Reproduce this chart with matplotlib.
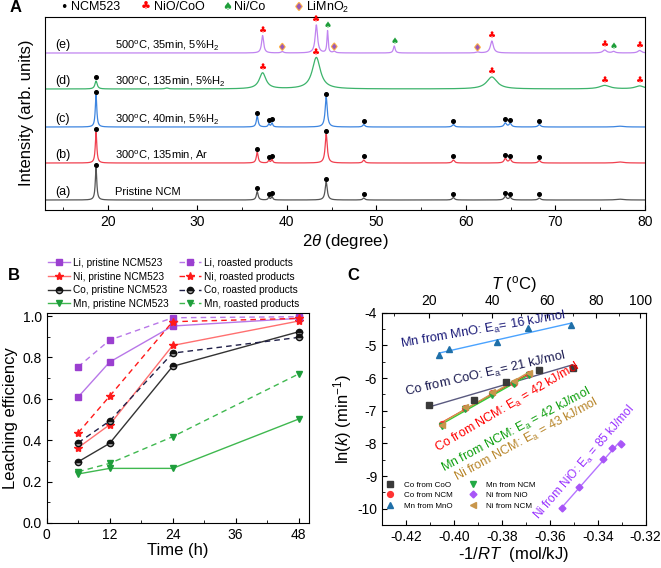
import numpy as np
import matplotlib
matplotlib.use("Agg")
import matplotlib.pyplot as plt
from matplotlib.lines import Line2D
from matplotlib.ticker import MultipleLocator, FixedLocator, FormatStrFormatter
import matplotlib.patheffects as pe

plt.rcParams['font.family'] = ['Liberation Sans', 'DejaVu Sans']
plt.rcParams['mathtext.fontset'] = 'custom'
plt.rcParams['mathtext.rm'] = 'Liberation Sans'
plt.rcParams['mathtext.it'] = 'Liberation Sans:italic'
plt.rcParams['mathtext.bf'] = 'Liberation Sans:bold'
plt.rcParams['axes.unicode_minus'] = False

W, H = 661, 568

# ---------------- panel A data: XRD peaks (2theta, height, half width)
ncm_pos = [18.7, 36.7, 38.0, 38.35, 44.4, 48.6, 58.6, 64.4, 64.95, 68.2, 77.2]
ncm_wid = [0.1, 0.12, 0.1, 0.1, 0.14, 0.14, 0.15, 0.16, 0.16, 0.16, 0.5]
a_hgt = [32, 8.5, 2.5, 3.5, 18, 2, 2.5, 3.5, 2.5, 2, 0.8]
b_hgt = [31, 11, 2.5, 3.5, 29, 3, 3, 4.5, 3.5, 2.5, 1]
c_hgt = [32, 11, 3, 4, 30, 2.5, 2.5, 4, 3.5, 2.5, 0.8]

d_pos = [18.7, 26.6, 37.3, 43.3, 62.9, 75.5, 79.4]
d_hgt = [8, 1, 16, 31.5, 12, 3.5, 3]
d_wid = [0.15, 0.2, 0.45, 0.55, 0.7, 0.7, 0.6]

e_pos = [37.3, 39.5, 43.3, 44.55, 45.3, 52.0, 61.3, 62.9, 75.5, 76.5, 79.4]
e_hgt = [17.5, 1.5, 28, 22, 1.5, 7, 1, 12, 3, 1.5, 2.5]
e_wid = [0.14, 0.15, 0.16, 0.08, 0.15, 0.12, 0.2, 0.2, 0.25, 0.2, 0.25]

offsets = [10, 47, 83, 121, 157]
trace_colors = ['#555555', '#f0404f', '#3d85e0', '#3cb36b', '#c084f0']
trace_tags = ['(a)', '(b)', '(c)', '(d)', '(e)']
trace_notes = ['Pristine NCM',
               '300$^{\\mathrm{o}}$C, 135min, Ar',
               '300$^{\\mathrm{o}}$C, 40min, 5%H$_2$',
               '300$^{\\mathrm{o}}$C, 135min, 5%H$_2$',
               '500$^{\\mathrm{o}}$C, 35min, 5%H$_2$']

ncm_marks = [18.7, 36.7, 38.0, 38.35, 44.4, 48.6, 58.6, 64.4, 64.95, 68.2]
d_ncm_marks = [18.7]
nio_marks = [37.3, 43.3, 62.9, 75.5, 79.4]
nico_marks = [44.55, 52.0, 76.5]
limno2_marks = [39.5, 45.3, 61.3]

# ---------------- panel B data
time_h = [6, 12, 24, 48]
li_pristine = [0.609, 0.778, 0.952, 0.989]
ni_pristine = [0.364, 0.475, 0.858, 0.976]
co_pristine = [0.296, 0.385, 0.757, 0.924]
mn_pristine = [0.237, 0.264, 0.264, 0.502]
li_roasted = [0.755, 0.884, 0.992, 0.997]
ni_roasted = [0.436, 0.613, 0.973, 0.989]
co_roasted = [0.388, 0.493, 0.821, 0.897]
mn_roasted = [0.248, 0.288, 0.417, 0.720]

# ---------------- panel C data (-1/RT, ln k)
x_mn_mno = [-0.4061, -0.4020, -0.3820, -0.3690, -0.3510]
y_mn_mno = [-5.28, -5.12, -4.91, -4.48, -4.38]
x_co_coo = [-0.4103, -0.3915, -0.3783, -0.3644, -0.3505]
y_co_coo = [-6.82, -6.67, -6.13, -5.74, -5.69]
x_ncm = [-0.4049, -0.3954, -0.3843, -0.3749, -0.3687]
y_co_ncm = [-7.40, -6.92, -6.47, -6.14, -5.88]
y_mn_ncm = [-7.46, -6.94, -6.52, -6.18, -5.92]
y_ni_ncm = [-7.43, -6.90, -6.44, -6.10, -5.85]
x_ni_nio = [-0.3549, -0.3478, -0.3378, -0.3340, -0.3305]
y_ni_nio = [-9.99, -9.35, -8.49, -8.15, -8.01]

R = 8.314e-3


def px_box(left, top, right, bottom):
    return [left / W, 1 - bottom / H, (right - left) / W, (bottom - top) / H]


def fig_xy(x, y):
    return x / W, 1 - y / H


def pattern(tt, pos, hgt, wid, base):
    y = np.full_like(tt, base, dtype=float)
    for p, h, w in zip(pos, hgt, wid):
        y += h / (1 + ((tt - p) / w) ** 2)
    return y


fig = plt.figure(figsize=(W / 100, H / 100), dpi=100)

# ================= A
axA = fig.add_axes(px_box(45, 17, 645, 210))
tt = np.linspace(13, 80, 4000)
curves = [pattern(tt, ncm_pos, a_hgt, ncm_wid, offsets[0]),
          pattern(tt, ncm_pos, b_hgt, ncm_wid, offsets[1]),
          pattern(tt, ncm_pos, c_hgt, ncm_wid, offsets[2]),
          pattern(tt, d_pos, d_hgt, d_wid, offsets[3]),
          pattern(tt, e_pos, e_hgt, e_wid, offsets[4])]
for i, cv in enumerate(curves):
    axA.plot(tt, cv, color=trace_colors[i], lw=0.9)
    axA.text(14.1, offsets[i] + 8, trace_tags[i], fontsize=9, va='center')
    axA.text(20.8, offsets[i] + 8, trace_notes[i], fontsize=8, va='center')


def put_dots(cv, xs, gap=3.5):
    ys = np.interp(xs, tt, cv) + gap
    axA.plot(xs, ys, ls='none', marker='o', ms=2.6, color='black')


def put_marks(cv, xs, sym, color, size, gap, edge=None):
    for x in xs:
        yv = np.interp(x, tt, cv) + gap
        t = axA.text(x, yv, sym, color=color, fontsize=size, ha='center',
                     va='center', family=['DejaVu Sans'])
        if edge:
            t.set_path_effects([pe.withStroke(linewidth=1.5, foreground=edge)])


for i in range(3):
    put_dots(curves[i], ncm_marks)
put_dots(curves[3], d_ncm_marks)
put_marks(curves[3], nio_marks, '\u2663', 'red', 6.5, 5)
put_marks(curves[4], nio_marks, '\u2663', 'red', 6.5, 5)
put_marks(curves[4], nico_marks, '\u2660', '#1e9e3a', 6.5, 5)
put_marks(curves[4], limno2_marks, '\u2666', '#9b59b6', 6, 4, edge='#ffb347')

axA.set_xlim(13, 80)
axA.set_ylim(0, 193)
axA.set_yticks([])
axA.xaxis.set_major_locator(MultipleLocator(10))
axA.xaxis.set_minor_locator(MultipleLocator(5))
axA.tick_params(axis='x', which='both', direction='in', labelsize=10)
axA.tick_params(axis='x', which='major', length=3.5)
axA.tick_params(axis='x', which='minor', length=2)
axA.set_xlabel('2$\\theta$ (degree)', fontsize=12, labelpad=2)
fig.text(*fig_xy(27, 113), 'Intensity (arb. units)', rotation=90,
         fontsize=12, ha='center', va='center')

# legend of A
leg_y = 7
fig.text(*fig_xy(64, leg_y), '\u2022', fontsize=9, ha='center', va='center',
         family=['DejaVu Sans'])
fig.text(*fig_xy(71, leg_y), 'NCM523', fontsize=9, va='center')
fig.text(*fig_xy(146, leg_y), '\u2663', fontsize=8, color='red', ha='center',
         va='center', family=['DejaVu Sans'])
fig.text(*fig_xy(154, leg_y), 'NiO/CoO', fontsize=9, va='center')
fig.text(*fig_xy(227, leg_y), '\u2660', fontsize=8, color='#1e9e3a',
         ha='center', va='center', family=['DejaVu Sans'])
fig.text(*fig_xy(234, leg_y), 'Ni/Co', fontsize=9, va='center')
dm = fig.text(*fig_xy(299, leg_y), '\u2666', fontsize=7, color='#9b59b6',
              ha='center', va='center', family=['DejaVu Sans'])
dm.set_path_effects([pe.withStroke(linewidth=1.5, foreground='#ffb347')])
fig.text(*fig_xy(306, leg_y), 'LiMnO$_2$', fontsize=9, va='center')

# ================= B
axB = fig.add_axes(px_box(46.7, 313, 309, 523))
li_m, li_l = '#9b3fd0', '#b877e8'
ni_m, ni_l = '#ff1a1a', '#ff7070'
co_m, co_l = '#111111', '#333333'
mn_m, mn_l = '#1f9e3c', '#3fb84f'
dash = (4, 3)
h1, = axB.plot(time_h, li_pristine, '-', color=li_l, lw=1.0, marker='s', ms=4.5,
               mfc=li_m, mec=li_m, label='Li, pristine NCM523')
h2, = axB.plot(time_h, ni_pristine, '-', color=ni_l, lw=1.0, marker='*', ms=6,
               mfc=ni_m, mec=ni_m, label='Ni, pristine NCM523')
h3, = axB.plot(time_h, co_pristine, '-', color=co_l, lw=1.0, marker='o', ms=4.5,
               mfc=co_m, mec=co_m, fillstyle='top', markerfacecoloralt='#aaaaaa',
               label='Co, pristine NCM523')
h4, = axB.plot(time_h, mn_pristine, '-', color=mn_l, lw=1.0, marker='v', ms=5,
               mfc=mn_m, mec=mn_m, label='Mn, pristine NCM523')
h5, = axB.plot(time_h, li_roasted, '--', dashes=dash, color=li_l, lw=1.0, marker='s',
               ms=4.5, mfc=li_m, mec=li_m, label='Li, roasted products')
h6, = axB.plot(time_h, ni_roasted, '--', dashes=dash, color=ni_m, lw=1.0, marker='*',
               ms=6, mfc=ni_m, mec=ni_m, label='Ni, roasted products')
h7, = axB.plot(time_h, co_roasted, '--', dashes=dash, color='#202048', lw=1.0,
               marker='o', ms=4.5, mfc=co_m, mec=co_m, fillstyle='top',
               markerfacecoloralt='#aaaaaa', label='Co, roasted products')
h8, = axB.plot(time_h, mn_roasted, '--', dashes=dash, color=mn_l, lw=1.0, marker='v',
               ms=5, mfc=mn_m, mec=mn_m, label='Mn, roasted products')
axB.set_xlim(0, 50)
axB.set_ylim(0, 1.015)
axB.xaxis.set_major_locator(MultipleLocator(12))
axB.xaxis.set_minor_locator(MultipleLocator(6))
axB.yaxis.set_major_locator(MultipleLocator(0.2))
axB.yaxis.set_minor_locator(MultipleLocator(0.1))
axB.yaxis.set_major_formatter(FormatStrFormatter('%.1f'))
axB.tick_params(which='both', direction='in', labelsize=10)
axB.tick_params(which='major', length=3.5)
axB.tick_params(which='minor', length=2)
axB.set_xlabel('Time (h)', fontsize=12, labelpad=1)
axB.set_ylabel('Leaching efficiency', fontsize=12, labelpad=3)
axB.legend(handles=[h1, h2, h3, h4, h5, h6, h7, h8], ncol=2, loc='upper left',
           bbox_to_anchor=fig_xy(48, 258), bbox_transform=fig.transFigure,
           frameon=False, fontsize=7.3, handlelength=2.2, handletextpad=0.25,
           columnspacing=1.0, labelspacing=0.35, borderpad=0, borderaxespad=0)

# ================= C
axC = fig.add_axes(px_box(382, 312.7, 645.7, 525))
c_specs = [
    (x_co_coo, y_co_coo, 's', '#3a3a3a', '#5a5a80', 'Co from CoO'),
    (x_ncm, y_co_ncm, 'o', '#ff3333', '#ff2020', 'Co from NCM'),
    (x_mn_mno, y_mn_mno, '^', '#1f6fa8', '#4aa3ff', 'Mn from MnO'),
    (x_ncm, y_mn_ncm, 'v', '#22aa44', '#33cc33', 'Mn from NCM'),
    (x_ni_nio, y_ni_nio, 'D', '#a855f7', '#b574ff', 'Ni from NiO'),
    (x_ncm, y_ni_ncm, '<', '#c8964b', '#c8a050', 'Ni from NCM'),
]
c_handles = []
for xs, ys, mk, mc, lc, lab in c_specs:
    xs = np.array(xs)
    k, b0 = np.polyfit(xs, ys, 1)
    xf = np.array([xs.min(), xs.max()])
    axC.plot(xf, k * xf + b0, color=lc, lw=1.0, zorder=2)
    ms = 3.5 if mk == 'D' else 4.2
    axC.plot(xs, ys, ls='none', marker=mk, ms=ms, mfc=mc, mec=mc, zorder=3)
    c_handles.append(Line2D([], [], ls='none', marker=mk, ms=ms, mfc=mc, mec=mc,
                            label=lab))

c_notes = [
    (-0.3880, -4.53, 10, 9.3, '#1a1a78', 'Mn from MnO: E$_\\mathrm{a}$= 16 kJ/mol'),
    (-0.3867, -5.88, 13, 9.3, '#1a1a50', 'Co from CoO: E$_\\mathrm{a}$= 21 kJ/mol'),
    (-0.3777, -6.90, 30.5, 9.0, '#ff0000', 'Co from NCM: E$_\\mathrm{a}$ = 42 kJ/mol'),
    (-0.3741, -7.60, 28, 9.0, '#10a010', 'Mn from NCM: E$_\\mathrm{a}$ = 42 kJ/mol'),
    (-0.3699, -7.88, 28.5, 9.0, '#b8862b', 'Ni from NCM: E$_\\mathrm{a}$ = 43 kJ/mol'),
    (-0.3457, -8.60, 49, 8.6, '#9933ff', 'Ni from NiO: E$_\\mathrm{a}$ = 85 kJ/mol'),
]
for xn, yn, rot, fs, col, txt in c_notes:
    axC.text(xn, yn, txt, rotation=rot, rotation_mode='anchor', ha='center',
             va='center', color=col, fontsize=fs)

axC.set_xlim(-0.43, -0.32)
axC.set_ylim(-10.5, -4)
axC.xaxis.set_major_locator(MultipleLocator(0.02))
axC.xaxis.set_minor_locator(MultipleLocator(0.01))
axC.xaxis.set_major_formatter(FormatStrFormatter('%.2f'))
axC.yaxis.set_major_locator(MultipleLocator(1))
axC.yaxis.set_minor_locator(MultipleLocator(0.5))
axC.tick_params(which='both', direction='in', labelsize=10)
axC.tick_params(which='major', length=3.5)
axC.tick_params(which='minor', length=2)
axC.set_xlabel('-1/$RT$  (mol/kJ)', fontsize=12, labelpad=1)
axC.set_ylabel('ln($k$) (min$^{-1}$)', fontsize=12, labelpad=2)

top = axC.secondary_xaxis('top', functions=(lambda x: -1 / (R * x) - 273.15,
                                            lambda t: -1 / (R * (t + 273.15))))
top.xaxis.set_major_locator(FixedLocator([20, 40, 60, 80, 100]))
top.xaxis.set_minor_locator(FixedLocator([10, 30, 50, 70, 90]))
top.tick_params(which='both', direction='in', labelsize=10)
top.tick_params(which='major', length=3.5)
top.tick_params(which='minor', length=2)
top.set_xlabel('$T$ ($^{\\mathrm{o}}$C)', fontsize=12, labelpad=3)

axC.legend(handles=c_handles, ncol=2, loc='upper left',
           bbox_to_anchor=fig_xy(386, 481), bbox_transform=fig.transFigure,
           frameon=False, fontsize=5.8, handlelength=1.0, handletextpad=1.2,
           columnspacing=2.0, labelspacing=0.35, borderpad=0, borderaxespad=0)

# panel letters
fig.text(*fig_xy(10, 7), 'A', fontsize=12, fontweight='bold', va='center')
fig.text(*fig_xy(8, 275), 'B', fontsize=12, fontweight='bold', va='center')
fig.text(*fig_xy(347, 275), 'C', fontsize=12, fontweight='bold', va='center')

fig.savefig('out.png', dpi=100)
